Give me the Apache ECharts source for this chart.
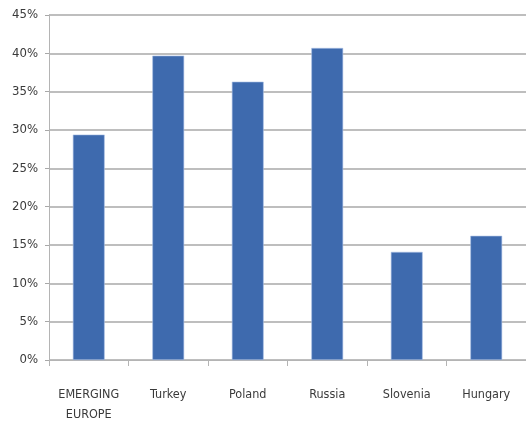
<!DOCTYPE html>
<html><head><meta charset="utf-8">
<script src="https://cdn.jsdelivr.net/npm/echarts@6/dist/echarts.min.js"></script>
<style>html,body{margin:0;padding:0;background:#fff}#c{width:526px;height:430px}</style>
</head><body><div id="c"></div>
<script>
var categories = ['EMERGING\nEUROPE', 'Turkey', 'Poland', 'Russia', 'Slovenia', 'Hungary'];
var values = [29.4, 39.7, 36.3, 40.7, 14.1, 16.2];
var yTicks = [0, 5, 10, 15, 20, 25, 30, 35, 40, 45];

var font = '"DejaVu Sans Condensed", "Liberation Sans Narrow", sans-serif';
var chart = echarts.init(document.getElementById('c'), null, {renderer: 'canvas'});
chart.setOption({
  animation: false,
  grid: {left: 49, top: 15, width: 481, height: 345, containLabel: false},
  xAxis: {
    type: 'category', data: categories,
    axisLine: {lineStyle: {color: '#b4b4b4', width: 1}},
    axisTick: {show: true, length: 6, alignWithLabel: false, lineStyle: {color: '#b4b4b4'}},
    axisLabel: {color: '#3a3a3a', fontFamily: font, fontSize: 12.5, margin: 25, lineHeight: 20, interval: 0}
  },
  yAxis: {
    type: 'value', min: yTicks[0], max: yTicks[yTicks.length - 1], interval: 5,
    axisLine: {show: true, lineStyle: {color: '#b4b4b4'}},
    axisTick: {show: true, length: 4, lineStyle: {color: '#a8a8a8'}},
    splitLine: {lineStyle: {color: '#a8a8a8', width: 1.5}},
    axisLabel: {color: '#3a3a3a', fontFamily: font, fontSize: 13, margin: 11, formatter: '{value}%'}
  },
  series: [{
    type: 'bar', data: values, barWidth: '40%',
    itemStyle: {color: '#3e6aae', borderColor: '#a9c0e4', borderWidth: 0.6}
  }]
});
</script></body></html>
